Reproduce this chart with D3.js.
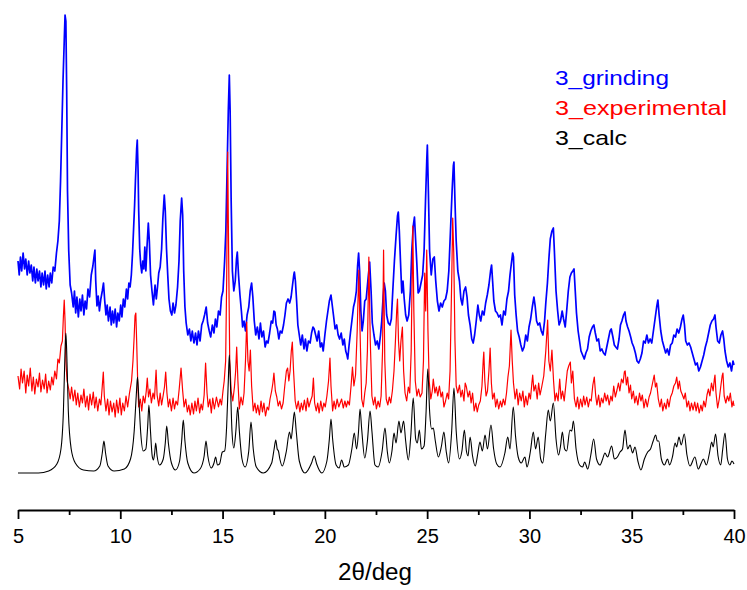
<!DOCTYPE html>
<html>
<head>
<meta charset="utf-8">
<script src="https://cdn.jsdelivr.net/npm/d3@7"></script>
<style>
  html, body { margin: 0; padding: 0; background: #fff; }
  #chart { width: 747px; height: 590px; }
  text { font-family: "Liberation Sans", Arial, sans-serif; }
</style>
</head>
<body>
<div id="chart"></div>
<script>
// [2theta, intensity] (arbitrary units, traces are offset)
const calcPattern = [
  [5.0, 38], [6.0, 38], [6.5, 40], [6.9, 47], [7.1, 62], [7.22, 100], [7.3, 160], [7.34, 178], [7.38, 160], [7.46, 100],
  [7.6, 62], [7.8, 48], [8.2, 41], [8.7, 40], [9.0, 45], [9.12, 58], [9.2, 70], [9.28, 58], [9.4, 45], [9.7, 40],
  [10.2, 42], [10.5, 52], [10.68, 80], [10.78, 115], [10.84, 134], [10.9, 115], [11.0, 78], [11.12, 60], [11.25, 62], [11.34, 85],
  [11.4, 106], [11.47, 82], [11.56, 55], [11.62, 51], [11.68, 58], [11.73, 68], [11.8, 55], [11.92, 46], [12.1, 52], [12.2, 68],
  [12.27, 85], [12.35, 68], [12.5, 48], [12.7, 41], [12.9, 50], [13.0, 70], [13.08, 91], [13.16, 70], [13.3, 48], [13.6, 38],
  [13.9, 42], [14.1, 55], [14.19, 70], [14.28, 55], [14.45, 43], [14.58, 48], [14.66, 54], [14.75, 46], [14.85, 47], [14.99, 59],
  [15.1, 60], [15.2, 85], [15.28, 130], [15.33, 156], [15.38, 130], [15.46, 80], [15.55, 63], [15.65, 80], [15.74, 104], [15.82, 80],
  [15.95, 52], [16.1, 44], [16.28, 60], [16.39, 89], [16.5, 62], [16.65, 44], [16.99, 38], [17.4, 48], [17.52, 62], [17.6, 71],
  [17.67, 62], [17.73, 60], [17.8, 52], [17.92, 45], [18.12, 60], [18.27, 79], [18.35, 72], [18.43, 85], [18.51, 99], [18.6, 80],
  [18.75, 50], [19.03, 38], [19.35, 48], [19.48, 55], [19.6, 47], [19.85, 38], [20.1, 50], [20.22, 72], [20.3, 92], [20.38, 72],
  [20.55, 46], [20.7, 43], [20.82, 51], [20.95, 44], [21.15, 46], [21.32, 62], [21.44, 78], [21.55, 62], [21.64, 78], [21.72, 102],
  [21.8, 82], [21.95, 53], [22.08, 70], [22.21, 100], [22.3, 80], [22.45, 46], [22.6, 44], [22.8, 60], [22.94, 83], [23.05, 60],
  [23.15, 48], [23.28, 60], [23.38, 78], [23.48, 68], [23.62, 90], [23.72, 78], [23.85, 90], [23.95, 70], [24.08, 51], [24.2, 75],
  [24.32, 113], [24.44, 72], [24.52, 68], [24.62, 81], [24.72, 62], [24.85, 65], [24.95, 100], [25.03, 142], [25.12, 100], [25.22, 82],
  [25.3, 83], [25.4, 70], [25.55, 54], [25.7, 65], [25.82, 79], [25.93, 60], [26.05, 48], [26.2, 80], [26.31, 123], [26.42, 80],
  [26.58, 52], [26.7, 60], [26.82, 81], [26.92, 60], [27.0, 55], [27.1, 74], [27.22, 55], [27.35, 45], [27.48, 58], [27.58, 69],
  [27.7, 60], [27.83, 76], [27.95, 62], [28.12, 86], [28.25, 62], [28.4, 47], [28.56, 44], [28.8, 58], [28.94, 74], [29.05, 62],
  [29.21, 104], [29.32, 75], [29.45, 54], [29.6, 48], [29.78, 54], [29.88, 44], [30.05, 60], [30.19, 79], [30.3, 62], [30.43, 74],
  [30.55, 52], [30.65, 48], [30.8, 78], [30.92, 101], [31.02, 90], [31.17, 108], [31.3, 72], [31.42, 56], [31.52, 65], [31.61, 79],
  [31.72, 62], [31.82, 60], [31.98, 81], [32.07, 80], [32.15, 90], [32.28, 62], [32.45, 46], [32.6, 44], [32.7, 49], [32.85, 42],
  [33.0, 56], [33.14, 72], [33.28, 52], [33.45, 46], [33.58, 52], [33.69, 58], [33.82, 54], [34.02, 65], [34.15, 52], [34.3, 54],
  [34.43, 59], [34.55, 62], [34.67, 81], [34.8, 62], [34.92, 66], [35.04, 58], [35.16, 64], [35.3, 50], [35.45, 41], [35.62, 52],
  [35.78, 59], [35.92, 62], [36.05, 70], [36.17, 76], [36.25, 70], [36.32, 70], [36.45, 52], [36.6, 46], [36.75, 52], [36.85, 46],
  [37.0, 55], [37.12, 68], [37.2, 64], [37.31, 74], [37.42, 66], [37.57, 77], [37.7, 56], [37.85, 45], [38.09, 54], [38.25, 42],
  [38.4, 48], [38.5, 52], [38.65, 46], [38.8, 58], [38.91, 69], [38.98, 64], [39.1, 77], [39.22, 55], [39.35, 46], [39.45, 62],
  [39.56, 78], [39.68, 52], [39.8, 46], [39.9, 50], [40.0, 47]
];

const experimentalPattern = [
  [5.0, 135], [5.08, 122], [5.15, 142], [5.22, 128], [5.3, 140], [5.38, 118], [5.45, 136], [5.52, 125], [5.6, 143], [5.68, 120],
  [5.75, 134], [5.82, 117], [5.9, 132], [5.98, 124], [6.05, 138], [6.12, 119], [6.2, 131], [6.28, 122], [6.35, 137], [6.42, 118],
  [6.5, 130], [6.58, 121], [6.65, 134], [6.72, 126], [6.8, 140], [6.88, 132], [6.95, 152], [7.02, 148], [7.1, 165], [7.17, 170],
  [7.22, 195], [7.26, 211], [7.3, 190], [7.34, 150], [7.4, 130], [7.48, 122], [7.55, 112], [7.62, 124], [7.7, 110], [7.78, 121],
  [7.85, 106], [7.92, 118], [8.0, 104], [8.08, 116], [8.15, 108], [8.22, 122], [8.3, 104], [8.38, 115], [8.45, 101], [8.52, 117],
  [8.6, 106], [8.68, 119], [8.75, 103], [8.82, 114], [8.9, 100], [8.98, 112], [9.05, 106], [9.12, 125], [9.17, 139], [9.22, 115],
  [9.3, 100], [9.38, 112], [9.45, 96], [9.52, 110], [9.6, 99], [9.68, 108], [9.75, 94], [9.82, 111], [9.9, 98], [9.98, 113],
  [10.05, 96], [10.12, 108], [10.2, 100], [10.28, 115], [10.36, 104], [10.45, 118], [10.55, 130], [10.62, 150], [10.68, 175], [10.72, 195],
  [10.76, 198], [10.8, 170], [10.85, 130], [10.9, 104], [10.98, 112], [11.05, 100], [11.12, 115], [11.2, 108], [11.27, 120], [11.32, 133],
  [11.38, 114], [11.45, 122], [11.52, 108], [11.6, 118], [11.67, 112], [11.75, 141], [11.8, 116], [11.88, 105], [11.95, 118], [12.02, 106],
  [12.1, 116], [12.16, 124], [12.22, 139], [12.28, 118], [12.35, 104], [12.42, 112], [12.5, 100], [12.58, 113], [12.65, 102], [12.72, 110],
  [12.8, 106], [12.88, 122], [12.97, 143], [13.05, 120], [13.12, 104], [13.2, 112], [13.28, 99], [13.35, 106], [13.42, 96], [13.5, 108],
  [13.58, 97], [13.65, 110], [13.72, 100], [13.8, 113], [13.88, 98], [13.95, 107], [14.02, 101], [14.1, 116], [14.17, 148], [14.24, 118],
  [14.3, 104], [14.38, 112], [14.45, 98], [14.52, 113], [14.6, 102], [14.7, 114], [14.8, 104], [14.88, 112], [14.95, 106], [15.02, 120],
  [15.08, 130], [15.15, 150], [15.2, 230], [15.25, 359], [15.3, 250], [15.35, 150], [15.42, 120], [15.5, 110], [15.58, 124], [15.64, 140],
  [15.69, 164], [15.75, 130], [15.82, 102], [15.9, 114], [15.98, 106], [16.05, 118], [16.12, 150], [16.18, 189], [16.24, 150], [16.3, 140],
  [16.36, 161], [16.42, 125], [16.5, 100], [16.58, 108], [16.65, 98], [16.72, 106], [16.8, 96], [16.88, 110], [16.95, 99], [17.02, 108],
  [17.1, 95], [17.18, 104], [17.25, 101], [17.32, 112], [17.4, 120], [17.46, 128], [17.51, 138], [17.58, 120], [17.65, 114], [17.72, 105],
  [17.8, 110], [17.88, 102], [17.96, 108], [18.04, 125], [18.12, 140], [18.18, 143], [18.24, 130], [18.3, 140], [18.36, 160], [18.41, 169],
  [18.47, 140], [18.55, 110], [18.62, 102], [18.7, 110], [18.78, 99], [18.85, 108], [18.92, 101], [19.0, 111], [19.08, 100], [19.15, 113],
  [19.22, 104], [19.3, 110], [19.38, 115], [19.44, 133], [19.5, 108], [19.58, 100], [19.65, 108], [19.72, 98], [19.8, 110], [19.88, 100],
  [19.95, 108], [20.02, 104], [20.1, 115], [20.18, 130], [20.25, 153], [20.3, 125], [20.38, 100], [20.45, 110], [20.52, 102], [20.6, 112],
  [20.68, 104], [20.75, 108], [20.82, 112], [20.9, 103], [20.98, 110], [21.05, 104], [21.12, 110], [21.2, 106], [21.28, 125], [21.35, 144],
  [21.42, 125], [21.5, 136], [21.58, 180], [21.66, 241], [21.72, 180], [21.8, 112], [21.88, 104], [21.95, 118], [22.02, 128], [22.08, 160],
  [22.15, 254], [22.22, 170], [22.3, 115], [22.38, 106], [22.45, 114], [22.52, 102], [22.6, 110], [22.68, 104], [22.75, 115], [22.82, 160],
  [22.87, 261], [22.93, 150], [23.0, 112], [23.08, 106], [23.15, 114], [23.22, 108], [23.3, 120], [23.38, 140], [23.45, 170], [23.51, 200],
  [23.55, 212], [23.6, 170], [23.66, 150], [23.72, 170], [23.79, 184], [23.85, 140], [23.92, 118], [24.0, 110], [24.08, 124], [24.15, 118],
  [24.22, 160], [24.27, 240], [24.3, 285], [24.35, 200], [24.42, 130], [24.5, 115], [24.58, 122], [24.66, 114], [24.75, 118], [24.82, 150],
  [24.88, 238], [24.93, 200], [24.98, 261], [25.04, 180], [25.1, 130], [25.18, 112], [25.25, 120], [25.3, 132], [25.38, 118], [25.45, 124],
  [25.52, 115], [25.6, 125], [25.68, 114], [25.75, 119], [25.82, 104], [25.9, 110], [25.98, 118], [26.05, 112], [26.12, 140], [26.2, 230],
  [26.25, 293], [26.3, 258], [26.36, 170], [26.42, 125], [26.5, 118], [26.58, 126], [26.65, 114], [26.72, 121], [26.8, 110], [26.86, 128],
  [26.92, 124], [27.0, 114], [27.08, 120], [27.15, 108], [27.22, 118], [27.3, 100], [27.38, 108], [27.45, 99], [27.52, 106], [27.6, 110],
  [27.68, 125], [27.74, 150], [27.77, 159], [27.82, 130], [27.88, 115], [27.95, 120], [28.02, 140], [28.08, 163], [28.14, 128], [28.2, 112],
  [28.28, 118], [28.35, 104], [28.42, 112], [28.5, 102], [28.58, 110], [28.65, 104], [28.72, 112], [28.8, 106], [28.88, 118], [28.95, 134],
  [29.02, 145], [29.1, 181], [29.16, 150], [29.22, 128], [29.3, 112], [29.38, 122], [29.45, 106], [29.52, 118], [29.6, 110], [29.68, 120],
  [29.75, 104], [29.82, 115], [29.9, 106], [29.98, 118], [30.05, 112], [30.12, 128], [30.16, 136], [30.22, 120], [30.3, 126], [30.38, 112],
  [30.45, 128], [30.52, 116], [30.6, 124], [30.7, 135], [30.8, 160], [30.89, 191], [30.95, 150], [31.02, 140], [31.1, 161], [31.18, 130],
  [31.25, 110], [31.32, 118], [31.4, 110], [31.48, 132], [31.55, 112], [31.62, 120], [31.7, 110], [31.78, 126], [31.85, 140], [31.92, 145],
  [32.0, 149], [32.05, 128], [32.12, 140], [32.2, 112], [32.28, 104], [32.35, 114], [32.42, 102], [32.5, 112], [32.58, 104], [32.65, 115],
  [32.72, 106], [32.8, 114], [32.88, 104], [32.95, 112], [33.02, 110], [33.1, 126], [33.17, 134], [33.24, 115], [33.3, 106], [33.38, 116],
  [33.45, 104], [33.52, 113], [33.6, 108], [33.68, 118], [33.75, 110], [33.82, 116], [33.9, 106], [33.98, 115], [34.05, 110], [34.12, 125],
  [34.2, 114], [34.28, 121], [34.35, 128], [34.42, 120], [34.5, 132], [34.58, 128], [34.64, 139], [34.68, 140], [34.74, 126], [34.8, 134],
  [34.87, 118], [34.94, 126], [35.0, 112], [35.08, 120], [35.15, 108], [35.22, 115], [35.3, 106], [35.38, 118], [35.45, 110], [35.52, 116],
  [35.6, 103], [35.68, 112], [35.76, 104], [35.85, 114], [35.92, 118], [36.0, 126], [36.06, 132], [36.1, 136], [36.16, 124], [36.22, 128],
  [36.3, 112], [36.38, 104], [36.45, 112], [36.52, 100], [36.6, 108], [36.68, 102], [36.75, 112], [36.82, 104], [36.9, 114], [36.98, 118],
  [37.06, 125], [37.14, 128], [37.2, 134], [37.27, 122], [37.33, 130], [37.4, 120], [37.48, 116], [37.55, 112], [37.62, 118], [37.7, 104],
  [37.78, 110], [37.85, 100], [37.92, 108], [38.0, 101], [38.08, 109], [38.15, 100], [38.22, 108], [38.3, 98], [38.38, 106], [38.45, 100],
  [38.52, 110], [38.6, 104], [38.68, 116], [38.75, 122], [38.82, 115], [38.9, 128], [38.98, 120], [39.04, 132], [39.07, 136], [39.12, 118],
  [39.2, 103], [39.28, 112], [39.35, 124], [39.42, 135], [39.46, 138], [39.52, 115], [39.6, 108], [39.68, 115], [39.75, 110], [39.82, 118],
  [39.9, 104], [39.96, 110], [40.0, 105]
];

const grindingPattern = [
  [5.0, 250], [5.06, 236], [5.12, 254], [5.18, 240], [5.25, 258], [5.32, 242], [5.38, 252], [5.45, 236], [5.52, 250], [5.58, 238],
  [5.65, 246], [5.72, 230], [5.78, 244], [5.85, 228], [5.92, 242], [5.98, 230], [6.05, 240], [6.12, 224], [6.18, 238], [6.25, 226],
  [6.32, 240], [6.38, 222], [6.45, 236], [6.52, 224], [6.58, 238], [6.65, 228], [6.72, 244], [6.8, 240], [6.88, 258], [6.95, 270],
  [7.02, 290], [7.08, 330], [7.14, 380], [7.2, 430], [7.26, 470], [7.3, 496], [7.34, 490], [7.38, 420], [7.42, 320], [7.48, 260],
  [7.55, 226], [7.62, 218], [7.7, 204], [7.76, 220], [7.82, 198], [7.88, 214], [7.95, 194], [8.02, 212], [8.08, 200], [8.15, 216],
  [8.22, 196], [8.28, 210], [8.35, 202], [8.42, 222], [8.5, 214], [8.58, 236], [8.66, 245], [8.72, 255], [8.76, 261], [8.8, 230],
  [8.86, 205], [8.92, 215], [8.98, 200], [9.05, 212], [9.12, 220], [9.18, 228], [9.24, 210], [9.3, 196], [9.36, 206], [9.42, 190],
  [9.5, 204], [9.56, 186], [9.62, 200], [9.68, 188], [9.75, 202], [9.82, 184], [9.88, 198], [9.95, 190], [10.02, 206], [10.08, 194],
  [10.15, 212], [10.22, 204], [10.3, 222], [10.36, 212], [10.42, 228], [10.48, 224], [10.54, 236], [10.6, 258], [10.65, 282], [10.7, 306],
  [10.74, 330], [10.8, 362], [10.83, 371], [10.87, 340], [10.9, 300], [10.95, 262], [11.0, 246], [11.05, 238], [11.1, 250], [11.15, 242],
  [11.2, 264], [11.25, 240], [11.3, 262], [11.37, 288], [11.42, 270], [11.48, 236], [11.55, 220], [11.62, 206], [11.7, 226], [11.76, 212],
  [11.82, 224], [11.88, 238], [11.95, 244], [12.02, 262], [12.08, 292], [12.15, 316], [12.2, 300], [12.26, 262], [12.32, 236], [12.38, 212],
  [12.45, 200], [12.52, 196], [12.58, 208], [12.65, 198], [12.72, 206], [12.8, 224], [12.87, 250], [12.93, 290], [13.0, 313], [13.05, 296],
  [13.1, 240], [13.16, 204], [13.22, 188], [13.3, 176], [13.38, 182], [13.45, 170], [13.52, 180], [13.6, 168], [13.68, 178], [13.75, 166],
  [13.82, 180], [13.9, 170], [13.98, 186], [14.05, 190], [14.12, 196], [14.2, 204], [14.27, 188], [14.35, 180], [14.42, 174], [14.5, 186],
  [14.58, 178], [14.65, 192], [14.72, 184], [14.8, 200], [14.88, 196], [14.95, 214], [15.02, 220], [15.1, 250], [15.16, 280], [15.22, 340],
  [15.28, 400], [15.33, 436], [15.37, 400], [15.42, 310], [15.48, 240], [15.55, 220], [15.62, 230], [15.68, 252], [15.72, 259], [15.78, 236],
  [15.85, 216], [15.92, 200], [15.98, 184], [16.05, 190], [16.12, 180], [16.2, 196], [16.28, 204], [16.35, 220], [16.42, 228], [16.48, 214],
  [16.55, 190], [16.62, 176], [16.7, 184], [16.78, 172], [16.85, 188], [16.92, 174], [17.0, 180], [17.08, 164], [17.15, 170], [17.22, 168],
  [17.3, 178], [17.38, 190], [17.45, 188], [17.51, 200], [17.56, 199], [17.62, 186], [17.68, 182], [17.75, 172], [17.82, 180], [17.9, 178],
  [17.98, 186], [18.05, 196], [18.12, 208], [18.2, 212], [18.28, 208], [18.35, 214], [18.42, 226], [18.48, 236], [18.51, 239], [18.56, 230],
  [18.62, 210], [18.68, 186], [18.75, 176], [18.82, 166], [18.9, 176], [18.98, 162], [19.05, 172], [19.12, 160], [19.2, 170], [19.28, 168],
  [19.35, 178], [19.42, 184], [19.48, 182], [19.55, 176], [19.62, 170], [19.7, 180], [19.78, 164], [19.85, 168], [19.92, 160], [20.0, 176],
  [20.08, 190], [20.15, 200], [20.22, 210], [20.3, 216], [20.36, 206], [20.42, 196], [20.5, 182], [20.58, 186], [20.65, 176], [20.72, 172],
  [20.8, 178], [20.88, 166], [20.95, 172], [21.02, 160], [21.08, 156], [21.12, 152], [21.18, 165], [21.25, 178], [21.32, 190], [21.4, 204],
  [21.47, 210], [21.54, 220], [21.6, 245], [21.65, 258], [21.7, 240], [21.76, 200], [21.82, 180], [21.88, 190], [21.95, 210], [22.02, 212],
  [22.1, 230], [22.19, 249], [22.26, 220], [22.32, 188], [22.4, 176], [22.48, 166], [22.56, 170], [22.64, 162], [22.72, 176], [22.78, 190],
  [22.85, 215], [22.9, 228], [22.96, 220], [23.02, 196], [23.1, 188], [23.18, 186], [23.25, 192], [23.32, 220], [23.4, 250], [23.48, 275],
  [23.55, 295], [23.59, 299], [23.64, 280], [23.7, 248], [23.76, 218], [23.82, 230], [23.88, 212], [23.95, 196], [24.02, 190], [24.1, 196],
  [24.18, 220], [24.25, 260], [24.32, 285], [24.38, 294], [24.44, 270], [24.5, 246], [24.56, 218], [24.62, 220], [24.7, 228], [24.78, 236],
  [24.85, 260], [24.92, 310], [24.98, 350], [25.01, 366], [25.06, 320], [25.12, 260], [25.2, 236], [25.28, 252], [25.35, 254], [25.42, 230],
  [25.5, 210], [25.58, 200], [25.66, 208], [25.74, 204], [25.82, 210], [25.9, 212], [25.98, 220], [26.06, 240], [26.14, 280], [26.22, 320],
  [26.28, 345], [26.31, 349], [26.36, 310], [26.42, 270], [26.5, 240], [26.58, 230], [26.65, 212], [26.72, 206], [26.8, 220], [26.88, 224],
  [26.95, 214], [27.02, 196], [27.1, 186], [27.18, 172], [27.25, 168], [27.32, 176], [27.4, 190], [27.48, 206], [27.55, 196], [27.62, 190],
  [27.7, 200], [27.78, 196], [27.86, 208], [27.94, 216], [28.02, 226], [28.1, 240], [28.15, 246], [28.2, 230], [28.26, 210], [28.34, 200],
  [28.42, 198], [28.5, 194], [28.58, 196], [28.66, 186], [28.74, 200], [28.82, 196], [28.9, 212], [28.98, 220], [29.05, 236], [29.12, 248],
  [29.18, 258], [29.22, 254], [29.28, 216], [29.35, 196], [29.42, 180], [29.5, 174], [29.58, 166], [29.66, 160], [29.74, 164], [29.82, 176],
  [29.9, 170], [29.98, 184], [30.06, 192], [30.14, 204], [30.22, 214], [30.28, 205], [30.35, 190], [30.42, 186], [30.5, 188], [30.58, 180],
  [30.66, 176], [30.74, 190], [30.8, 208], [30.88, 228], [30.95, 252], [31.02, 272], [31.1, 280], [31.17, 283], [31.22, 260], [31.3, 220],
  [31.38, 200], [31.45, 186], [31.52, 190], [31.6, 200], [31.67, 192], [31.75, 184], [31.82, 200], [31.9, 220], [31.98, 234], [32.05, 238],
  [32.12, 240], [32.18, 242], [32.24, 220], [32.3, 198], [32.38, 180], [32.45, 170], [32.52, 160], [32.6, 156], [32.68, 152], [32.76, 158],
  [32.84, 162], [32.92, 174], [33.0, 180], [33.08, 184], [33.15, 186], [33.22, 178], [33.3, 170], [33.38, 172], [33.46, 160], [33.54, 162],
  [33.62, 158], [33.7, 156], [33.78, 164], [33.86, 172], [33.94, 180], [34.0, 182], [34.08, 174], [34.15, 166], [34.22, 164], [34.3, 162],
  [34.38, 172], [34.45, 186], [34.52, 190], [34.6, 196], [34.67, 199], [34.72, 190], [34.8, 184], [34.87, 180], [34.95, 174], [35.02, 168],
  [35.1, 164], [35.18, 158], [35.26, 150], [35.34, 148], [35.42, 152], [35.5, 158], [35.58, 170], [35.66, 168], [35.74, 176], [35.82, 168],
  [35.9, 172], [35.98, 168], [36.06, 180], [36.14, 192], [36.22, 204], [36.28, 211], [36.34, 196], [36.42, 180], [36.5, 170], [36.58, 164],
  [36.66, 158], [36.74, 162], [36.82, 156], [36.9, 166], [36.98, 168], [37.06, 176], [37.14, 174], [37.22, 182], [37.3, 178], [37.38, 184],
  [37.46, 192], [37.52, 196], [37.58, 186], [37.64, 170], [37.72, 166], [37.8, 168], [37.88, 164], [37.96, 158], [38.04, 152], [38.12, 146],
  [38.2, 148], [38.28, 140], [38.36, 144], [38.44, 150], [38.52, 156], [38.6, 164], [38.68, 170], [38.76, 178], [38.84, 186], [38.92, 190],
  [39.0, 192], [39.07, 196], [39.12, 184], [39.2, 170], [39.28, 168], [39.36, 176], [39.44, 180], [39.5, 172], [39.56, 160], [39.64, 150],
  [39.72, 144], [39.8, 148], [39.88, 140], [39.95, 150], [40.0, 146]
];

const seriesNames = ['3_grinding', '3_experimental', '3_calc'];
const seriesColors = ['#0000ff', '#ff0000', '#000000'];
const majorTicks = [5, 10, 15, 20, 25, 30, 35, 40];
const minorTicks = [7.5, 12.5, 17.5, 22.5, 27.5, 32.5, 37.5];
const xTitle = '2θ/deg';

const width = 747, height = 590;

const svg = d3.select('#chart')
    .append('svg')
    .attr('width', width)
    .attr('height', height);

// scales
const x = d3.scaleLinear().domain([5, 40]).range([18, 734]);
const y = d3.scaleLinear().domain([0, 500]).range([511, 11]);

const axisY = 510;

// traces
const noisyLine = d3.line()
    .x(d => x(d[0]))
    .y(d => y(d[1]));

const smoothLine = d3.line()
    .x(d => x(d[0]))
    .y(d => y(d[1]))
    .curve(d3.curveMonotoneX);

svg.append('path')
    .datum(grindingPattern)
    .attr('d', noisyLine)
    .attr('fill', 'none')
    .attr('stroke', seriesColors[0])
    .attr('stroke-width', 1.7)
    .attr('stroke-linejoin', 'round');

svg.append('path')
    .datum(experimentalPattern)
    .attr('d', noisyLine)
    .attr('fill', 'none')
    .attr('stroke', seriesColors[1])
    .attr('stroke-width', 1.2)
    .attr('stroke-linejoin', 'round');

svg.append('path')
    .datum(calcPattern)
    .attr('d', smoothLine)
    .attr('fill', 'none')
    .attr('stroke', seriesColors[2])
    .attr('stroke-width', 1.1);

// x axis: major ticks with labels, minor ticks without
const xAxis = svg.append('g')
    .attr('class', 'x-axis')
    .attr('transform', `translate(0,${axisY})`)
    .call(d3.axisBottom(x).tickValues(majorTicks).tickSize(9).tickSizeOuter(0).tickFormat(d3.format('d')));

xAxis.select('.domain').attr('stroke', '#000').attr('stroke-width', 2);
xAxis.selectAll('.tick line').attr('stroke', '#000').attr('stroke-width', 1.8);
xAxis.selectAll('.tick text')
    .attr('fill', '#000')
    .attr('y', 33)
    .attr('dy', null)
    .style('font-family', '"Liberation Sans", Arial, sans-serif')
    .style('font-size', '20px');

svg.append('g')
    .attr('class', 'x-minor')
    .attr('transform', `translate(0,${axisY})`)
    .call(d3.axisBottom(x).tickValues(minorTicks).tickSize(5).tickFormat(''))
    .call(g => g.select('.domain').remove())
    .selectAll('line')
    .attr('stroke', '#000')
    .attr('stroke-width', 1.8);

svg.append('text')
    .attr('x', 338)
    .attr('y', 580)
    .attr('textLength', 74)
    .attr('lengthAdjust', 'spacingAndGlyphs')
    .style('font-size', '23px')
    .attr('fill', '#000')
    .text(xTitle);

// legend (text only, drawn a little wide as in the source)
const legendWidths = [114, 172, 72];
svg.append('g')
    .attr('class', 'legend')
    .selectAll('text')
    .data(seriesNames)
    .enter()
    .append('text')
    .attr('x', 555)
    .attr('y', (d, i) => 85 + i * 30)
    .attr('textLength', (d, i) => legendWidths[i])
    .attr('lengthAdjust', 'spacingAndGlyphs')
    .attr('fill', (d, i) => seriesColors[i])
    .style('font-size', '21px')
    .text(d => d);
</script>
</body>
</html>
